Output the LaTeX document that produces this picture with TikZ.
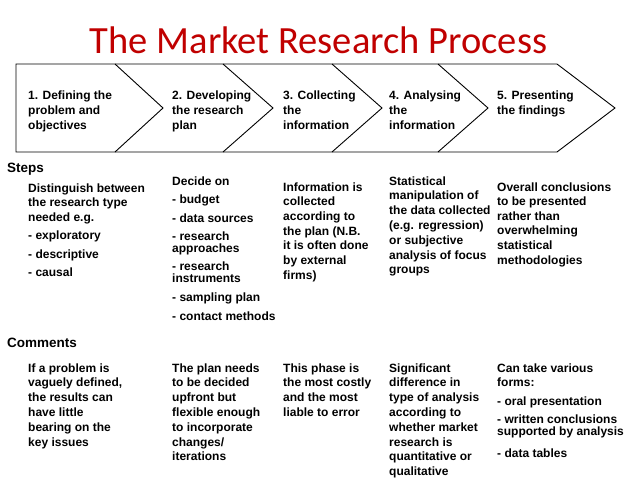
\documentclass[tikz,border=0pt]{standalone}
\usepackage{fontspec}
\setmainfont{Liberation Sans}
\newfontfamily\titlefont{Carlito}
\definecolor{titlered}{RGB}{192,0,0}
\newcommand\textlines[3]{%
  \foreach \yy/\myline [count=\k] in {#3}{%
    \node[txt] (#1-\k) at (#2,\yy) {\myline};}}
\begin{document}
\begin{tikzpicture}[x=1pt,y=-1pt,
  txt/.style={anchor=base west,inner sep=0pt,font=\bfseries\fontsize{12}{14}\selectfont},
  lbl/.style={anchor=base west,inner sep=0pt,font=\bfseries\fontsize{13.5}{16}\selectfont},
  ttl/.style={anchor=base,inner sep=0pt,text=titlered,font=\titlefont\fontsize{38.5}{44}\selectfont},
  outline/.style={draw=black,line width=0.9pt,line join=miter}]
\useasboundingbox (0,0) rectangle (638,479);
% title
\node[ttl] (title) at (318.5,53) {The Market Research Process};
% chevron band
\coordinate (tl) at (16,64);
\coordinate (bl) at (16,152);
\draw[outline] (tl) -- (557,64) -- (615,108) -- (557,152) -- (bl) -- cycle;
\foreach \xa/\xb in {115/163,223/273,332/382,438/488}{
  \draw[outline] (\xa,64) -- (\xb,108) -- (\xa,152);}
% chevron labels
\textlines{h1}{28}{99/1. Defining the,114.5/problem  and,129.5/objectives}
\textlines{h2}{172}{99/2. Developing,114.5/the research,129.5/plan}
\textlines{h3}{283}{99/3. Collecting,114.5/the,129.5/information}
\textlines{h4}{389}{99/4. Analysing,114.5/the,129.5/information}
\textlines{h5}{497}{99/5. Presenting,114.5/the findings}
% section labels
\node[lbl] (steps) at (7,172) {Steps};
\node[lbl] (comments) at (7,347) {Comments};
% steps
\textlines{s1}{28}{192/Distinguish between,206.5/the research type,221/needed e.g.,239.5/- exploratory,258/- descriptive,276.5/- causal}
\textlines{s2}{172}{185/Decide on,203.5/- budget,222/- data sources,240/- research,252/approaches,270/- research,282/instruments,301/- sampling plan,320/- contact methods}
\textlines{s3}{283}{191/Information is,205.7/collected,220.4/according to,235.1/the plan (N.B.,249.8/it is often done,264.5/by external,279.2/firms)}
\textlines{s4}{389}{185/Statistical,199.8/manipulation of,214.6/the data collected,229.4/(e.g. regression),244.2/or subjective,259/analysis of focus,273.8/groups}
\textlines{s5}{497}{191/Overall conclusions,205.6/to be presented,220.2/rather than,234.8/overwhelming,249.4/statistical,264/methodologies}
% comments
\textlines{c1}{28}{372/If a problem is,386.8/{vaguely defined,},401.6/the results can,416.4/have little,431.2/bearing on the,446/key issues}
\textlines{c2}{172}{372/The plan needs,386.8/to be decided,401.6/upfront but,416.4/flexible enough,431.2/to incorporate,446/{changes/},460.8/iterations}
\textlines{c3}{283}{372/This phase is,386.8/the most costly,401.6/and the most,416.4/liable to error}
\textlines{c4}{389}{372/Significant,386.8/difference in,401.6/type of analysis,416.4/according to,431.2/whether market,446/research is,460.8/quantitative or,475.6/qualitative}
\textlines{c5}{497}{372/Can take various,386.8/forms:,405/- oral presentation,423/- written conclusions,435/supported by analysis,457/- data tables}
\end{tikzpicture}
\end{document}
